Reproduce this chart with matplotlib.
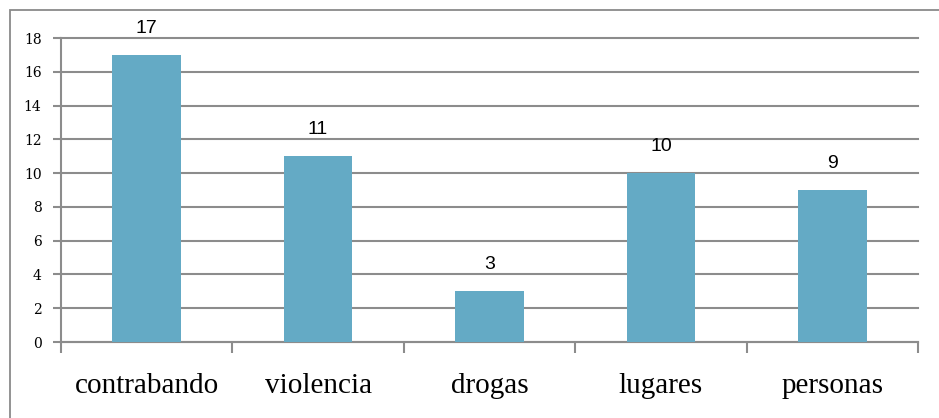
import matplotlib.pyplot as plt
from matplotlib.patches import Rectangle
import numpy as np

categories = ["contrabando", "violencia", "drogas", "lugares", "personas"]
values = [17, 11, 3, 10, 9]
yticks = [0, 2, 4, 6, 8, 10, 12, 14, 16, 18]

bar_color = "#64aac5"
grid_color = "#8c8c8c"

fig = plt.figure(figsize=(9.39, 4.18), dpi=100)
ax = fig.add_axes([61 / 939, 1 - 342 / 418, (918 - 61) / 939, (342 - 38) / 418])

# outer chart border
fig.patches.append(Rectangle((10 / 939, -0.05), 1.0, 1 - 10 / 418 + 0.05,
                             transform=fig.transFigure, fill=False,
                             edgecolor="#8a8a8a", linewidth=1.3))

x = np.arange(len(categories))
ax.bar(x, values, width=0.4, color=bar_color, zorder=3)

for xi, v in zip(x, values):
    ax.annotate(str(v), (xi, v), xytext=(0, 19), textcoords="offset points",
                ha="center", va="center", fontsize=14,
                family="Liberation Sans", color="black")

ax.set_xlim(-0.5, len(categories) - 0.5)
ax.set_ylim(0, 18)
ax.set_yticks(yticks)
ax.set_yticklabels([str(t) for t in yticks], family="DejaVu Serif", fontsize=10)
ax.yaxis.grid(True, color=grid_color, linewidth=1.5, zorder=0)
for gl in ax.get_ygridlines():
    gl.set_clip_on(False)
ax.set_axisbelow(True)

ax.set_xticks(x)
ax.set_xticklabels(categories, family="Liberation Serif", fontsize=21)
ax.set_xticks(np.arange(-0.5, len(categories)), minor=True)
ax.tick_params(axis="x", which="major", length=0, pad=22)
ax.tick_params(axis="x", which="minor", length=8, width=1.5, color=grid_color, direction="out")
ax.tick_params(axis="y", length=6, width=1.5, color=grid_color, pad=8)

for s in ["top", "right"]:
    ax.spines[s].set_visible(False)
for s in ["left", "bottom"]:
    ax.spines[s].set_color(grid_color)
    ax.spines[s].set_linewidth(1.5)

fig.savefig("out.png", dpi=100)
